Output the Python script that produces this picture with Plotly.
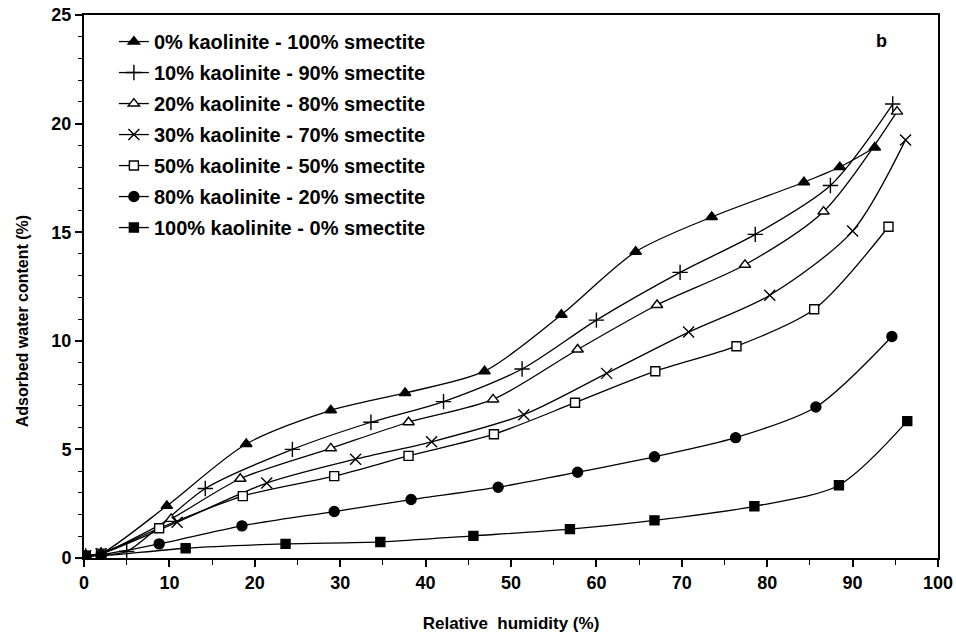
import plotly.graph_objects as go

names = [
    "0% kaolinite - 100% smectite",
    "10% kaolinite - 90% smectite",
    "20% kaolinite - 80% smectite",
    "30% kaolinite - 70% smectite",
    "50% kaolinite - 50% smectite",
    "80% kaolinite - 20% smectite",
    "100% kaolinite - 0% smectite",
]

x_k0 = [0.2, 2.0, 9.7, 19.0, 28.9, 37.6, 46.9, 55.9, 64.6, 73.5, 84.3, 88.5, 92.6]
y_k0 = [0.1, 0.2, 2.4, 5.25, 6.8, 7.6, 8.6, 11.2, 14.1, 15.7, 17.3, 18.0, 18.9]

x_k10 = [0.2, 2.0, 5.0, 14.2, 24.4, 33.6, 42.1, 51.3, 60.0, 69.8, 78.6, 87.4, 94.7]
y_k10 = [0.1, 0.15, 0.3, 3.2, 5.0, 6.25, 7.2, 8.7, 10.95, 13.15, 14.9, 17.15, 20.9]

x_k20 = [0.2, 2.0, 10.2, 18.3, 28.9, 38.0, 47.9, 57.8, 67.1, 77.4, 86.6, 95.2]
y_k20 = [0.1, 0.2, 1.8, 3.65, 5.05, 6.25, 7.3, 9.6, 11.65, 13.5, 15.95, 20.55]

x_k30 = [0.2, 2.0, 10.9, 21.4, 31.8, 40.7, 51.5, 61.2, 70.8, 80.3, 90.0, 96.2]
y_k30 = [0.1, 0.2, 1.65, 3.45, 4.55, 5.35, 6.6, 8.5, 10.4, 12.1, 15.05, 19.25]

x_k50 = [0.2, 2.0, 8.8, 18.6, 29.3, 38.0, 48.0, 57.5, 66.9, 76.4, 85.5, 94.2]
y_k50 = [0.1, 0.2, 1.37, 2.85, 3.77, 4.7, 5.7, 7.15, 8.6, 9.75, 11.45, 15.25]

x_k80 = [0.2, 2.0, 8.8, 18.5, 29.3, 38.3, 48.5, 57.8, 66.8, 76.3, 85.7, 94.6]
y_k80 = [0.1, 0.15, 0.65, 1.48, 2.14, 2.69, 3.26, 3.95, 4.66, 5.54, 6.95, 10.2]

x_k100 = [0.2, 2.0, 11.9, 23.6, 34.7, 45.6, 56.9, 66.8, 78.5, 88.4, 96.4]
y_k100 = [0.1, 0.1, 0.45, 0.65, 0.74, 1.02, 1.33, 1.73, 2.38, 3.35, 6.3]

xs = [x_k0, x_k10, x_k20, x_k30, x_k50, x_k80, x_k100]
ys = [y_k0, y_k10, y_k20, y_k30, y_k50, y_k80, y_k100]
symbols = ["triangle-up", "cross-thin", "triangle-up", "x-thin",
           "square", "circle", "square"]
fills = ["black", "black", "white", "black", "white", "black", "black"]
sizes = [10, 11, 10, 11, 9, 10, 9]

fig = go.Figure()
for i in range(7):
    fig.add_trace(go.Scatter(
        x=xs[i], y=ys[i], name=names[i], mode="lines+markers",
        legendgroup=f"g{i}",
        line=dict(color="black", width=1.3, shape="spline", smoothing=0.8),
        marker=dict(symbol=symbols[i], size=sizes[i], color=fills[i],
                    line=dict(color="black", width=1.4)),
    ))

font_family = "Liberation Sans, Arial, sans-serif"
fig.update_layout(
    width=956, height=636,
    margin=dict(l=84, r=18, t=15, b=78),
    plot_bgcolor="white", paper_bgcolor="white",
    font=dict(family=font_family, size=18, color="black", weight="bold"),
    showlegend=True,
    legend=dict(x=0.035, y=0.987, xanchor="left", yanchor="top",
                bgcolor="rgba(0,0,0,0)", tracegroupgap=2,
                font=dict(size=20, weight="bold"), itemwidth=30),
    annotations=[
        dict(x=0.925, y=0.975, xref="paper", yref="paper", text="b",
             showarrow=False, font=dict(size=18, weight="bold"),
             xanchor="left", yanchor="top"),
        dict(x=-0.072, y=0.435, xref="paper", yref="paper",
             text="Adsorbed water content (%)", textangle=-90,
             showarrow=False, font=dict(size=16, weight="bold"),
             xanchor="center", yanchor="middle"),
    ],
)
fig.update_xaxes(
    range=[0, 100], tickmode="linear", tick0=0, dtick=10,
    ticks="outside", ticklen=7, tickwidth=1.5, tickcolor="black",
    minor=dict(dtick=5, ticks="outside", ticklen=5, tickcolor="black", tickwidth=1.2),
    showline=True, linecolor="black", linewidth=2, mirror=True,
    showgrid=False, zeroline=False, automargin=False,
    tickfont=dict(size=18, weight="bold"),
    title=dict(text="Relative  humidity (%)", font=dict(size=17, weight="bold"), standoff=26),
)
fig.update_yaxes(
    range=[0, 25], tickmode="linear", tick0=0, dtick=5,
    ticks="outside", ticklen=7, tickwidth=1.5, tickcolor="black",
    minor=dict(dtick=1, ticks="outside", ticklen=4, tickcolor="black", tickwidth=1.2),
    showline=True, linecolor="black", linewidth=2, mirror=True,
    showgrid=False, zeroline=False, automargin=False,
    tickfont=dict(size=18, weight="bold"),
)
fig.write_html("out.html")
